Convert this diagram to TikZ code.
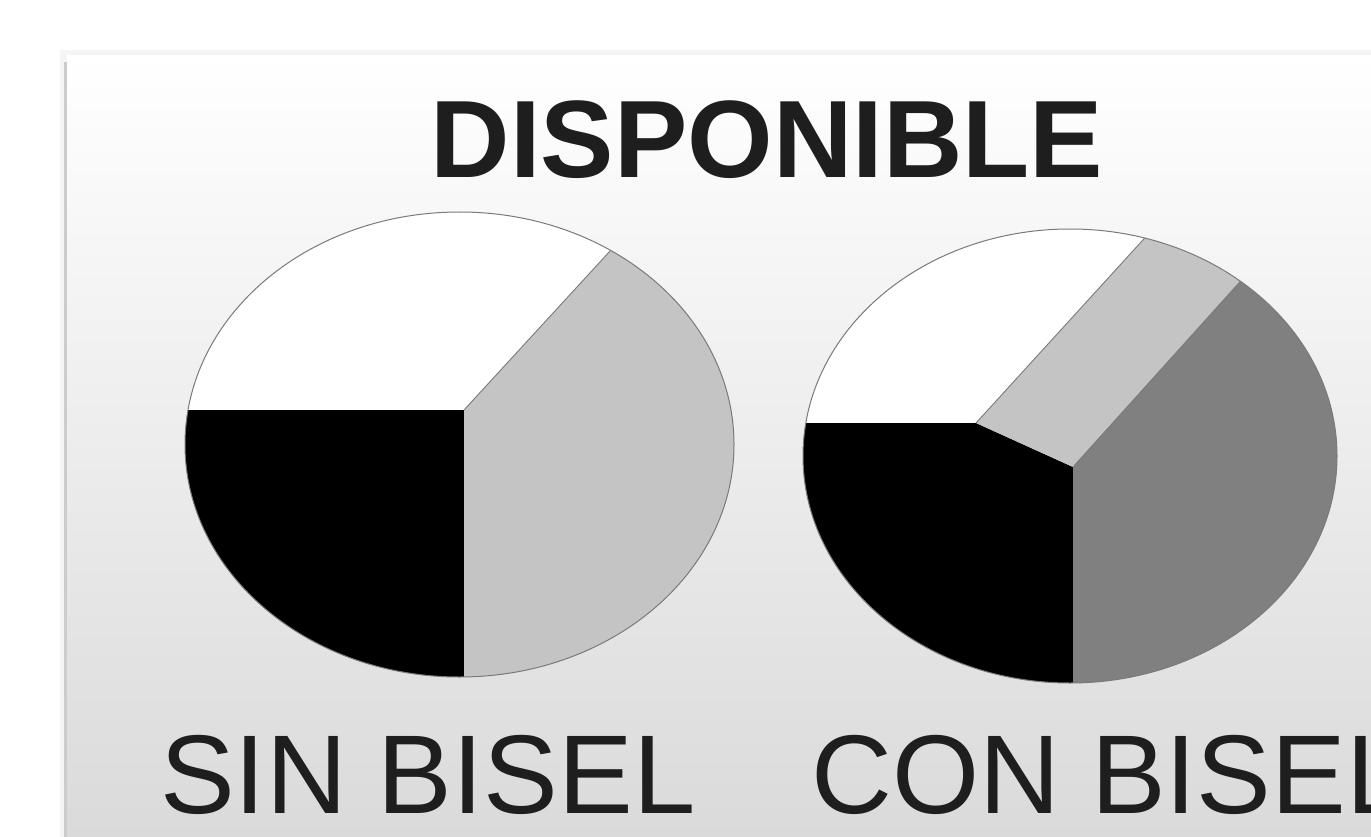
\documentclass[tikz,border=0pt]{standalone}
\usepackage{fontspec}
\setmainfont{Liberation Sans}
\definecolor{lgray}{HTML}{C4C4C4}
\definecolor{dgray}{HTML}{808080}
\definecolor{edge}{HTML}{7A7A7A}
\definecolor{ink}{HTML}{1E1E1E}
\definecolor{panelbot}{HTML}{DADADA}
\tikzset{
  sector/.style={draw=none},
  rim/.style={draw=edge, line width=1pt},
  cut/.style={draw=edge, line width=0.9pt},
  title/.style={font=\bfseries\fontsize{110}{120}\selectfont, text=ink, inner sep=0pt, anchor=base},
  label/.style={font=\fontsize{112}{120}\selectfont, text=ink, inner sep=0pt, anchor=base west}
}
\begin{document}
\begin{tikzpicture}[x=1pt,y=-1pt]
\useasboundingbox (0,0) rectangle (1371,837);
\clip (0,0) rectangle (1371,837);
\fill[white] (0,0) rectangle (1371,837);
% panel with shadow
\fill[black!4] (60,50) rectangle (1371,837);
\draw[black!20, line width=3pt] (65,62) -- (65,837);
\shade[top color=white, bottom color=panelbot] (67,55) rectangle (1371,837);
\draw[black!5, line width=2pt] (70,54) -- (1371,54);

% left pie (sin bisel)
\begin{scope}
  \clip (459.5,444.5) ellipse [x radius=274.5pt, y radius=232.5pt];
  \fill[white] (150,180) rectangle (760,720);
  \fill[black] (150,410) -- (464,410) -- (464,720) -- (150,720) -- cycle;
  \fill[lgray] (464,410) -- (699.2,154) -- (800,154) -- (800,720) -- (464,720) -- cycle;
  \draw[cut] (464,410) -- (699.2,154);
\end{scope}
\draw[rim] (459.5,444.5) ellipse [x radius=274.5pt, y radius=232.5pt];

% right pie (con bisel)
\begin{scope}
  \clip (1070,456) ellipse [x radius=267pt, y radius=227pt];
  \fill[white] (780,200) rectangle (1371,720);
  \fill[black] (780,423) -- (976,423) -- (1073,467) -- (1073,720) -- (780,720) -- cycle;
  \fill[lgray] (976,423) -- (1191.8,186.4) -- (1320.5,192.5) -- (1073,467) -- cycle;
  \fill[dgray] (1073,467) -- (1320.5,192.5) -- (1400,192) -- (1400,720) -- (1073,720) -- cycle;
  \draw[cut] (976,423) -- (1191.8,186.4);
  \draw[cut] (1073,467) -- (1320.5,192.5);
\end{scope}
\draw[rim] (1070,456) ellipse [x radius=267pt, y radius=227pt];

% texts
\node[title] (ttl) at (767,178) {DISPONIBLE};
\node[label] (sin) at (160,813) {SIN BISEL};
\node[label] (con) at (811,813) {CON BISEL};
\end{tikzpicture}
\end{document}
